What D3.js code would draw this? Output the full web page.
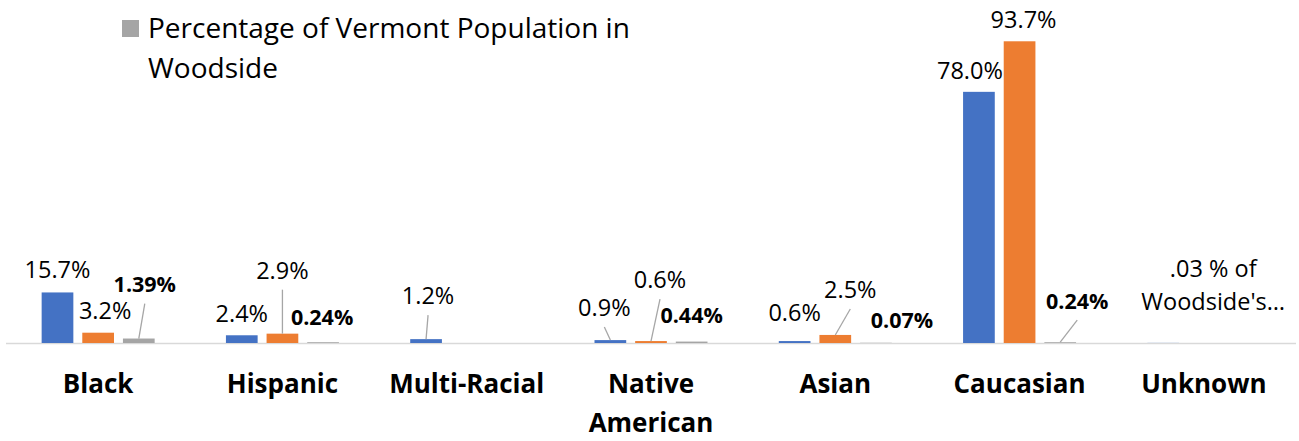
<!DOCTYPE html>
<html>
<head>
<meta charset="utf-8">
<script src="https://cdn.jsdelivr.net/npm/d3@7"></script>
<style>
  body { margin: 0; background: #fff; }
  svg { display: block; font-family: "Open Sans", sans-serif; }
</style>
</head>
<body>
<svg width="1299" height="441"></svg>
<script>
const width = 1299;
const height = 441;

// categories + series
const categories = ["Black", "Hispanic", "Multi-Racial", "Native American", "Asian", "Caucasian", "Unknown"];
const seriesNames = ["Percentage of Woodside Population", "Percentage of Vermont Population", "Percentage of Vermont Population in Woodside"];
const woodsideValues = [15.7, 2.4, 1.2, 0.9, 0.6, 78.0, 0.03];
const vermontValues  = [3.2, 2.9, null, 0.6, 2.5, 93.7, null];
const inWoodsideValues = [1.39, 0.24, null, 0.44, 0.07, 0.24, null];
const customLabels = { "Unknown|0": [".03 % of", "Woodside's\u2026"] };

const colors = ["#4472C4", "#ED7D31", "#A5A5A5"];

// label nudges relative to bar top-centre, and which get a leader line
const labelOffset = {
  "Black|0": [0, -23], "Black|1": [7, -22], "Black|2": [6, -54],
  "Hispanic|0": [0, -21], "Hispanic|1": [0, -63], "Hispanic|2": [-1, -25],
  "Multi-Racial|0": [2, -43],
  "Native American|0": [-6, -32], "Native American|1": [9, -61], "Native American|2": [0, -26],
  "Asian|0": [0, -28], "Asian|1": [15, -45], "Asian|2": [26, -22],
  "Caucasian|0": [-9, -21], "Caucasian|1": [4, -22], "Caucasian|2": [17, -41],
  "Unknown|0": [50, -58]
};
const leaders = ["Black|2", "Hispanic|1", "Multi-Racial|0", "Native American|0", "Native American|1", "Asian|1", "Caucasian|2"];

const svg = d3.select("svg");

const x0 = d3.scaleBand().domain(categories).range([6, 1296]).padding(0);
const x1 = d3.scaleBand().domain([0, 1, 2]).range([-56.5, 56.5]).paddingInner(0.22).paddingOuter(0);
const y = d3.scaleLinear().domain([0, 100]).range([343, 21]);

const allSeries = [woodsideValues, vermontValues, inWoodsideValues];
const bars = [];
categories.forEach((c, i) => {
  allSeries.forEach((vals, s) => {
    if (vals[i] == null) return;
    bars.push({ cat: c, s: s, v: vals[i], key: c + "|" + s });
  });
});

const bx = d => x0(d.cat) + x0.bandwidth() / 2 + x1(d.s);
const bc = d => bx(d) + x1.bandwidth() / 2;

// axis baseline
svg.append("line")
  .attr("x1", 6).attr("x2", 1296)
  .attr("y1", y(0) + 0.5).attr("y2", y(0) + 0.5)
  .attr("stroke", "#D9D9D9").attr("stroke-width", 1.3);

svg.selectAll(".bar")
  .data(bars)
  .enter().append("rect")
    .attr("class", "bar")
    .attr("x", bx)
    .attr("width", x1.bandwidth())
    .attr("y", d => y(d.v))
    .attr("height", d => y(0) - y(d.v))
    .attr("fill", d => colors[d.s]);

// leader lines
svg.selectAll(".leader")
  .data(bars.filter(d => leaders.includes(d.key)))
  .enter().append("line")
    .attr("class", "leader")
    .attr("x1", d => bc(d) + labelOffset[d.key][0])
    .attr("y1", d => y(d.v) + labelOffset[d.key][1] + 19)
    .attr("x2", bc)
    .attr("y2", d => y(d.v))
    .attr("stroke", "#A6A6A6").attr("stroke-width", 1.3);

// data labels
const fmt1 = d3.format(".1f"), fmt2 = d3.format(".2f");
const lab = svg.selectAll(".lab")
  .data(bars)
  .enter().append("text")
    .attr("class", "lab")
    .attr("text-anchor", "middle")
    .attr("font-size", d => d.s === 2 ? 21.5 : 23.5)
    .attr("font-weight", d => d.s === 2 ? "bold" : "normal")
    .attr("fill", "#000")
    .attr("x", d => bc(d) + labelOffset[d.key][0])
    .attr("y", d => y(d.v) + labelOffset[d.key][1]);

lab.each(function(d) {
  const t = d3.select(this);
  const custom = customLabels[d.key];
  if (custom) {
    custom.forEach((line, k) => {
      t.append("tspan")
        .attr("x", bc(d) + labelOffset[d.key][0])
        .attr("dy", k === 0 ? "-0.35em" : "1.4em")
        .text(line);
    });
  } else {
    t.attr("dy", "0.35em").text((d.s === 2 ? fmt2(d.v) : fmt1(d.v)) + "%");
  }
});

// category labels
svg.selectAll(".cat")
  .data(categories)
  .enter().append("text")
    .attr("class", "cat")
    .attr("text-anchor", "middle")
    .attr("font-size", 26)
    .attr("font-weight", "bold")
    .attr("fill", "#000")
    .attr("x", d => x0(d) + x0.bandwidth() / 2)
    .attr("y", 393)
    .each(function(d) {
      const words = d === "Native American" ? ["Native", "American"] : [d];
      words.forEach((w, k) => {
        d3.select(this).append("tspan")
          .attr("x", x0(d) + x0.bandwidth() / 2)
          .attr("dy", k === 0 ? 0 : 39)
          .text(w);
      });
    });

// legend (only the grey entry is visible)
svg.append("rect")
  .attr("x", 122).attr("y", 20).attr("width", 17).attr("height", 17)
  .attr("fill", colors[2]);
const leg = svg.append("text")
  .attr("x", 148).attr("y", 38)
  .attr("font-size", 28)
  .attr("fill", "#000");
leg.append("tspan").attr("x", 148).text("Percentage of Vermont Population in");
leg.append("tspan").attr("x", 148).attr("dy", 40).text("Woodside");
</script>
</body>
</html>
